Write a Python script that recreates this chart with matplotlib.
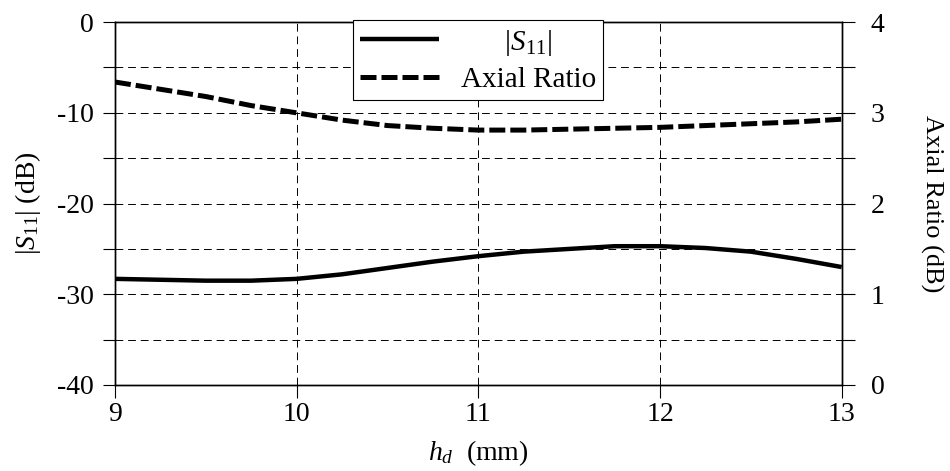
import matplotlib
matplotlib.use("Agg")
import matplotlib.pyplot as plt
from matplotlib.ticker import MultipleLocator, FuncFormatter

plt.rcParams['font.family'] = ['Liberation Serif', 'DejaVu Serif']
plt.rcParams['mathtext.fontset'] = 'custom'
plt.rcParams['mathtext.rm'] = 'Liberation Serif'
plt.rcParams['mathtext.it'] = 'Liberation Serif:italic'

h_d = [9.0, 9.25, 9.5, 9.75, 10.0, 10.25, 10.5, 10.75, 11.0, 11.25, 11.5,
       11.75, 12.0, 12.25, 12.5, 12.75, 13.0]
s11_db = [-28.3, -28.4, -28.5, -28.5, -28.3, -27.8, -27.1, -26.4, -25.8, -25.3,
          -25.0, -24.7, -24.7, -24.9, -25.3, -26.1, -27.0]
axial_ratio_db = [3.34, 3.26, 3.18, 3.08, 3.00, 2.92, 2.86, 2.83, 2.81, 2.81,
                  2.82, 2.83, 2.84, 2.86, 2.88, 2.90, 2.93]

FS = 20

fig = plt.figure(figsize=(9.5, 4.71), dpi=100)
ax = fig.add_axes([0.121, 0.1826, 0.765, 0.7704])
ax2 = ax.twinx()

l1, = ax.plot(h_d, s11_db, color='black', lw=3.2, solid_capstyle='butt')
l2, = ax2.plot(h_d, axial_ratio_db, color='black', lw=3.6, ls=(0, (3.2, 1.0)))

ax.set_xlim(9, 13)
ax.set_ylim(-40, 0)
ax2.set_ylim(0, 4)

ax.xaxis.set_major_locator(MultipleLocator(1))
ax.yaxis.set_major_locator(MultipleLocator(5))
ax.yaxis.set_major_formatter(FuncFormatter(lambda v, p: f"{int(v)}" if int(round(v)) % 10 == 0 else ""))
ax2.yaxis.set_major_locator(MultipleLocator(0.5))
ax2.yaxis.set_major_formatter(FuncFormatter(lambda v, p: f"{int(v)}" if abs(v - round(v)) < 1e-6 else ""))

ax.grid(True, color='black', ls=(0, (8, 5)), lw=0.7)

for a in (ax, ax2):
    for s in a.spines.values():
        s.set_linewidth(1.0)
ax.tick_params(axis='both', direction='out', length=9, width=0.8, labelsize=FS, pad=3)
ax.tick_params(axis='y', pad=6)
ax2.tick_params(axis='y', direction='out', length=9, width=0.8, labelsize=FS, pad=12)

ax.set_xlabel(r'$h_d$  (mm)', fontsize=FS, labelpad=8)
ax.set_ylabel(r'$|S_{11}|$ (dB)', fontsize=FS, labelpad=10)
ax2.set_ylabel('Axial Ratio (dB)', fontsize=FS - 1, rotation=270, labelpad=42)

leg = ax2.legend([l1, l2], [r'      $|S_{11}|$', 'Axial Ratio'], loc='upper left',
                 bbox_to_anchor=(0.327, 1.005), fontsize=FS + 1, frameon=True,
                 fancybox=False, edgecolor='black', framealpha=1,
                 handlelength=2.7, borderpad=0.25, labelspacing=0.3,
                 handletextpad=0.75, borderaxespad=0)
leg.get_frame().set_linewidth(0.8)

fig.savefig('out.png', dpi=100)
